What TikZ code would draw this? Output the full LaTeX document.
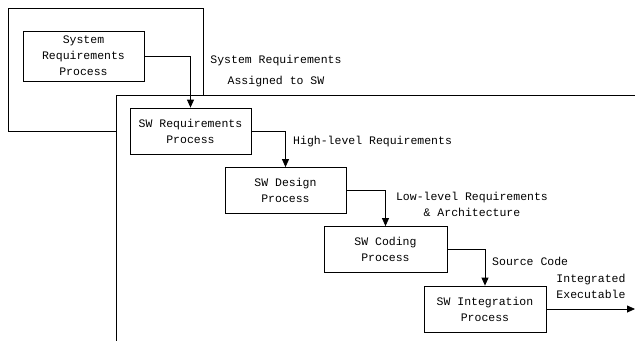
\documentclass[tikz,border=0pt]{standalone}
\usepackage{fontspec}
\setmonofont{Liberation Mono}
\usetikzlibrary{arrows.meta}

\tikzset{
  proc/.style={draw, line width=0.8pt, minimum width=121pt, minimum height=46pt,
               align=center, inner sep=0pt},
  flow/.style={line width=0.8pt, -{Triangle[length=8pt,width=7pt]}},
  lbl/.style={align=center, inner sep=0pt}
}

\begin{document}
\begin{tikzpicture}[x=1pt, y=-1pt, font=\ttfamily\fontsize{11.5}{16}\selectfont]
      \useasboundingbox (0, 0) rectangle (635, 341);
      % containers
      \draw [line width=0.8pt] (8, 8) rectangle (203, 131);
      \fill [white] (116, 95) rectangle (635, 341);
      \draw [line width=0.8pt] (635, 95) -- (116, 95) -- (116, 341);
      % processes
      \node (sysreq) [proc, minimum height=50pt] at (83.5, 56) {System\\Requirements\\Process};
      \node (swreq)  [proc] at (190.5, 131) {SW Requirements\\Process};
      \node (design) [proc] at (285.5, 190.5) {SW Design\\Process};
      \node (coding) [proc, minimum width=123pt] at (385.5, 249.5) {SW Coding\\Process};
      \node (integ)  [proc, minimum width=122pt] at (485, 309) {SW Integration\\Process};
      \coordinate (out) at (635, 309);
      % data
      \node (sysasg) [lbl] at (276, 71.5) {System Requirements\\[5pt]Assigned to SW};
      \node (high)   [lbl, anchor=west] at (293, 142) {High-level Requirements};
      \node (low)    [lbl] at (472, 204) {Low-level Requirements\\\& Architecture};
      \node (src)    [lbl, anchor=west] at (492, 261) {Source Code};
      \node (intexe) [lbl] at (591, 286) {Integrated\\Executable};
      \draw [flow] (sysreq.east) -| (swreq.north);
      \draw [flow] (swreq.east) -| (design.north);
      \draw [flow] (design.east) -| (coding.north);
      \draw [flow] (coding.east) -| (integ.north);
      \draw [flow] (integ.east) -- (out);
\end{tikzpicture}
\end{document}
